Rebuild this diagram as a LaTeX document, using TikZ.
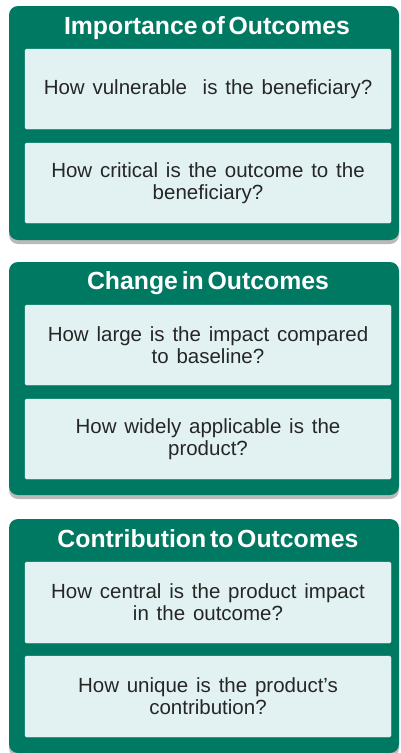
\documentclass[tikz,border=0pt]{standalone}
\usepackage{fontspec}
\setmainfont{Liberation Sans}
\newfontfamily\titlefont[WordSpace=0.55]{Liberation Sans Bold}
\newfontfamily\qfont[WordSpace=1.37]{Liberation Sans}
\usetikzlibrary{shadows}
\definecolor{outergreen}{RGB}{0,121,98}
\definecolor{innerfill}{RGB}{226,242,242}
\definecolor{txt}{RGB}{38,38,38}
\tikzset{
  outerbox/.style={fill=outergreen, rounded corners=9pt, drop shadow={shadow xshift=0pt, shadow yshift=-4pt, opacity=0.45, fill=black!60}},
  innerbox/.style={fill=innerfill, draw=innerfill!70!white, line width=0.4pt, rounded corners=1.5pt},
  titletext/.style={text=white, font=\titlefont\fontsize{24.8}{26}\selectfont, anchor=center},
  qtext/.style={text=txt, font=\qfont\fontsize{20.5}{22.5}\selectfont, align=center, anchor=center}
}
\begin{document}
\begin{tikzpicture}[x=1pt,y=-1pt]
\useasboundingbox (0,0) rectangle (400,753);
\fill[white] (0,0) rectangle (400,753);
% Box 1
\path[outerbox] (9,6) rectangle (399,240);
\node[titletext] (t1) at (207,28) {Importance of Outcomes};
\path[innerbox] (25,49) rectangle (391,129);
\node[qtext] (q1) at (208,89) {How vulnerable\ \ is the beneficiary?};
\path[innerbox] (25,143) rectangle (391,223);
\node[qtext] (q2) at (208,183) {How critical is the outcome to the\\beneficiary?};
% Box 2
\path[outerbox] (9,262) rectangle (399,495);
\node[titletext] (t2) at (208,283) {Change in Outcomes};
\path[innerbox] (25,305) rectangle (391,385);
\node[qtext] (q3) at (208,345) {How large is the impact compared\\to baseline?};
\path[innerbox] (25,399) rectangle (391,479);
\node[qtext] (q4) at (208,439) {How widely applicable is the\\product?};
% Box 3
\path[outerbox] (9,519) rectangle (399,753);
\node[titletext] (t3) at (208,539) {Contribution to Outcomes};
\path[innerbox] (25,562) rectangle (391,643);
\node[qtext] (q5) at (208,602) {How central is the product impact\\in the outcome?};
\path[innerbox] (25,656) rectangle (391,737);
\node[qtext] (q6) at (208,696) {How unique is the product’s\\contribution?};
\end{tikzpicture}
\end{document}
